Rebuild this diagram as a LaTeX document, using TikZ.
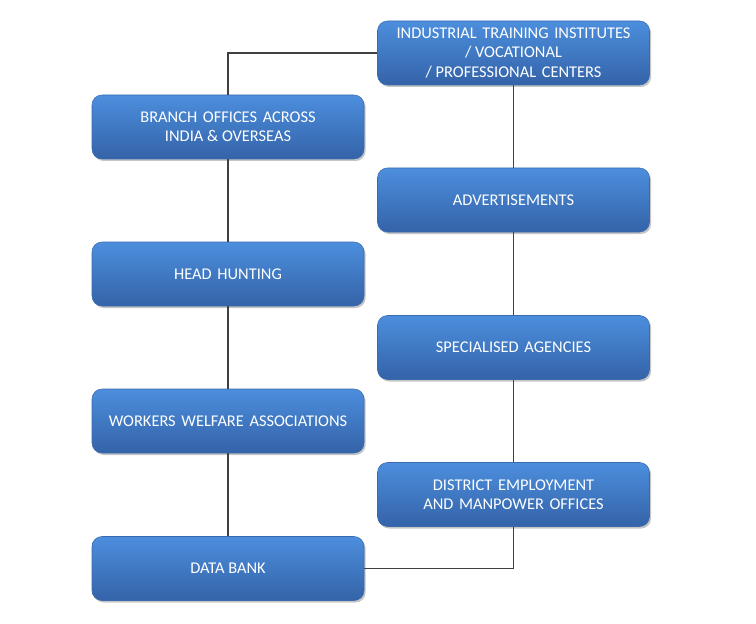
\documentclass[tikz,border=0pt]{standalone}
\usepackage{fontspec}
\setmainfont{Carlito}
\usetikzlibrary{shadows}
\definecolor{boxtop}{HTML}{4C8EDD}
\definecolor{boxbot}{HTML}{3463A8}
\definecolor{boxedge}{HTML}{3A6AAE}
\definecolor{wire}{HTML}{404040}
\newcommand{\gap}{\ \hspace{0.12em}}
\begin{document}
\begin{tikzpicture}[x=0.75pt,y=-0.75pt]
	\tikzstyle{block}=[rectangle,rounded corners=7.5pt,top color=boxtop,bottom color=boxbot,draw=boxedge,line width=0.4pt,minimum width=204pt,minimum height=48pt,align=center,text=white,font=\fontsize{12.3}{14.3}\selectfont,drop shadow={shadow xshift=1.2pt,shadow yshift=-1.5pt,fill=black!45,opacity=0.5}]
	\tikzstyle{wire}=[draw=wire,line width=0.9pt]
	\useasboundingbox (0,0) rectangle (756,624);
	% right column
	\node (iti) [block] at (513.5,53) {INDUSTRIAL\gap TRAINING\gap INSTITUTES\\/ VOCATIONAL\\/ PROFESSIONAL\gap CENTERS};
	\node (adv) [block] at (513.5,200) {ADVERTISEMENTS};
	\node (spec) [block] at (513.5,347.5) {SPECIALISED\gap AGENCIES};
	\node (dist) [block] at (513.5,494.5) {DISTRICT\gap EMPLOYMENT\\AND\gap MANPOWER\gap OFFICES};
	% left column
	\node (branch) [block] at (228,127) {BRANCH\gap OFFICES\gap ACROSS\\INDIA \& OVERSEAS};
	\node (head) [block] at (228,274) {HEAD\gap HUNTING};
	\node (welfare) [block] at (228,421) {WORKERS\gap WELFARE\gap ASSOCIATIONS};
	\node (data) [block] at (228,568.5) {DATA BANK};
	% connectors
	\draw[wire] (iti.west) -| (branch.north);
	\draw[wire] (branch.south) -- (head.north);
	\draw[wire] (head.south) -- (welfare.north);
	\draw[wire] (welfare.south) -- (data.north);
	\draw[wire] (iti.south) -- (adv.north);
	\draw[wire] (adv.south) -- (spec.north);
	\draw[wire] (spec.south) -- (dist.north);
	\draw[wire] (data.east) -| (dist.south);
\end{tikzpicture}
\end{document}
